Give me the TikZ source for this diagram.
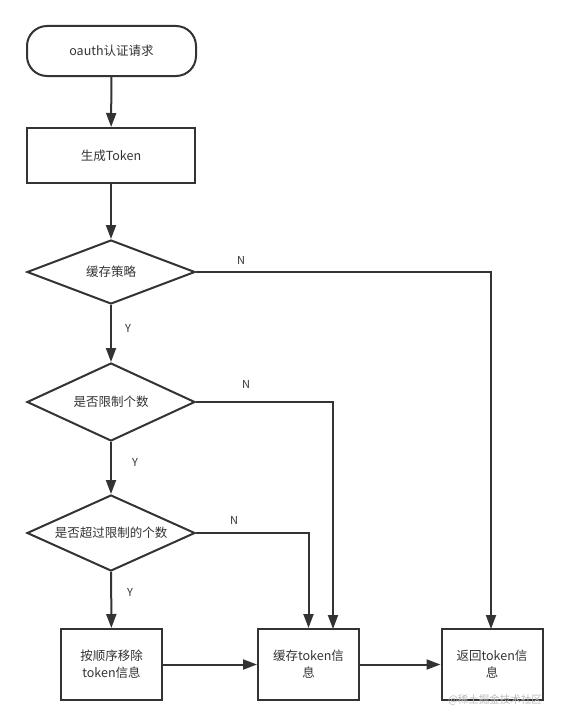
\documentclass[tikz,border=0pt]{standalone}
\usepackage{fontspec}
\setmainfont{Noto Sans CJK SC}
\usetikzlibrary{shapes.geometric,arrows.meta}
\definecolor{ink}{HTML}{333333}
\begin{document}
\begin{tikzpicture}[x=1pt,y=-1pt,
  every node/.style={font=\fontsize{12.5}{17}\selectfont, text=ink},
  base/.style={draw=ink, line width=2pt, inner sep=0pt, align=center},
  term/.style={base, rounded corners=20pt, minimum width=169pt, minimum height=50pt},
  procbox/.style={base, minimum width=168pt, minimum height=55pt},
  smallbox/.style={base, minimum width=101pt, minimum height=71pt},
  decision/.style={base, diamond, aspect=2.5},
  conn/.style={draw=ink, line width=2pt, -{Triangle[length=14pt,width=10pt]}},
  line/.style={draw=ink, line width=2pt},
  lbl/.style={font=\fontsize{11}{13}\selectfont}
]
\useasboundingbox (0,0) rectangle (567,725);
\node[term] (t) at (111.5,51) {oauth认证请求};
\node[procbox] (g) at (111,155.5) {生成Token};
\node[decision, minimum width=168pt, minimum height=64pt] (d1) at (111,272) {缓存策略};
\node[decision, minimum width=168pt, minimum height=78pt] (d2) at (111,402) {是否限制个数};
\node[decision, minimum width=168pt, minimum height=76pt] (d3) at (111,533) {是否超过限制的个数};
\node[smallbox] (b1) at (111.5,664.5) {按顺序移除\\token信息};
\node[smallbox] (b2) at (308.5,664.5) {缓存token信\\息};
\node[smallbox] (b3) at (492,664.5) {返回token信\\息};
\coordinate (b2r) at (333,629);
\coordinate (b3t) at (491,629);

\draw[conn] (t) -- (g);
\draw[conn] (g) -- (d1);
\draw[conn] (d1) -- (d2);
\draw[conn] (d2) -- (d3);
\draw[conn] (d3) -- (b1);
\draw[conn] (b1) -- (b2);
\draw[conn] (b2) -- (b3);
\draw[conn] (d1.east) -| (b3t);
\draw[conn] (d2.east) -| (b2r);
\draw[conn] (d3.east) -| (b2.north);

\node[lbl] (n1) at (241,260) {N};
\node[lbl] (n2) at (246,384) {N};
\node[lbl] (n3) at (234,520) {N};
\node[lbl] (y1) at (128,328) {Y};
\node[lbl] (y2) at (135,462) {Y};
\node[lbl] (y3) at (130,592) {Y};
\node[font=\fontsize{10.5}{12}\selectfont, text=gray!55] (wm) at (495,700) {@稀土掘金技术社区};
\end{tikzpicture}
\end{document}
